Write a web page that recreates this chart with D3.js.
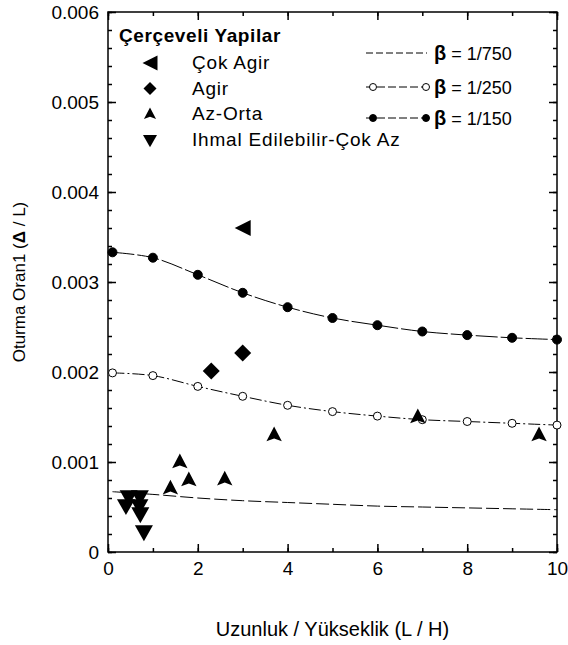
<!DOCTYPE html>
<html>
<head>
<meta charset="utf-8">
<script src="https://cdn.jsdelivr.net/npm/d3@7"></script>
<style>
  body { margin: 0; background: #fff; }
  svg text { font-family: "Liberation Sans", Arial, sans-serif; fill: #000; }
</style>
</head>
<body>
<svg id="chart"></svg>
<script>
// settlement-ratio curves, x = L/H
const ratios = [0.1, 1, 2, 3, 4, 5, 6, 7, 8, 9, 10];
const beta750 = [0.00067, 0.00064, 0.00060, 0.00057, 0.00055, 0.00053, 0.00051, 0.00050, 0.00049, 0.00048, 0.00047];
const beta250 = [0.00199, 0.00196, 0.00184, 0.00173, 0.00163, 0.00156, 0.00151, 0.00147, 0.00145, 0.00143, 0.00141];
const beta150 = [0.00333, 0.00327, 0.00308, 0.00288, 0.00272, 0.00260, 0.00252, 0.00245, 0.00241, 0.00238, 0.00236];

// observed damage cases
const cokAgir = [[3.0, 0.0036]];
const agir = [[2.3, 0.00201], [3.0, 0.00221]];
const azOrta = [[1.39, 0.00071], [1.6, 0.00100], [1.8, 0.00080], [2.6, 0.00081], [3.7, 0.00130], [6.9, 0.00150], [9.6, 0.00130]];
const ihmal = [[0.4, 0.00052], [0.46, 0.00062], [0.71, 0.00062], [0.7, 0.00052], [0.72, 0.00043], [0.8, 0.00023]];

const xTicks = [0, 2, 4, 6, 8, 10];
const xTickLabels = ['0', '2', '4', '6', '8', '10'];
const yTicks = [0, 0.001, 0.002, 0.003, 0.004, 0.005, 0.006];
const yTickLabels = ['0', '0.001', '0.002', '0.003', '0.004', '0.005', '0.006'];

const legendTitle = 'Çerçeveli Yapilar';
const damageNames = ['Çok Agir', 'Agir', 'Az-Orta', 'Ihmal Edilebilir-Çok Az'];
const betaNames = ['1/750', '1/250', '1/150'];

const width = 568, height = 645;
const pLeft = 108, pRight = 557, pTop = 12, pBottom = 552;

const svg = d3.select('#chart').attr('width', width).attr('height', height);

const x = d3.scaleLinear().domain([0, 10]).range([pLeft, pRight]);
const y = d3.scaleLinear().domain([0, 0.006]).range([pBottom, pTop]);

// marker shapes
const shapes = {
  leftTri: s => `M${-s*0.5},0 L${s*0.5},${-s*0.5} L${s*0.5},${s*0.5} Z`,
  diamond: s => `M0,${-s*0.5} L${s*0.5},0 L0,${s*0.5} L${-s*0.5},0 Z`,
  arrow: s => `M0,${-s*0.6} L${s*0.55},${s*0.45} L0,${s*0.25} L${-s*0.55},${s*0.45} Z`,
  downTri: s => `M${-s*0.5},${-s*0.33} L${s*0.5},${-s*0.33} L0,${s*0.55} Z`
};

// axes: inward ticks on all four sides
const minorX = d3.range(0, 11, 1);
const minorY = d3.range(0, 31).map(d => d * 0.0002);

function drawAxis(axis, tx, ty) {
  const g = svg.append('g').attr('transform', `translate(${tx},${ty})`).call(axis);
  g.select('.domain').remove();
  g.selectAll('line').attr('stroke', '#000').attr('stroke-width', 1.5);
  g.selectAll('text').attr('font-size', 19).attr('font-family', '"Liberation Sans", Arial, sans-serif');
  return g;
}

drawAxis(d3.axisBottom(x).tickValues(minorX).tickSize(-4).tickFormat(''), 0, pBottom);
drawAxis(d3.axisTop(x).tickValues(minorX).tickSize(-4).tickFormat(''), 0, pTop);
drawAxis(d3.axisLeft(y).tickValues(minorY).tickSize(-4).tickFormat(''), pLeft, 0);
drawAxis(d3.axisRight(y).tickValues(minorY).tickSize(-4).tickFormat(''), pRight, 0);

drawAxis(d3.axisBottom(x).tickValues(xTicks).tickSize(-8).tickPadding(10)
  .tickFormat((d, i) => xTickLabels[i]), 0, pBottom);
drawAxis(d3.axisTop(x).tickValues(xTicks).tickSize(-8).tickFormat(''), 0, pTop);
drawAxis(d3.axisLeft(y).tickValues(yTicks).tickSize(-8).tickPadding(9)
  .tickFormat((d, i) => yTickLabels[i]), pLeft, 0);
drawAxis(d3.axisRight(y).tickValues(yTicks).tickSize(-8).tickFormat(''), pRight, 0);

svg.append('rect')
  .attr('x', pLeft).attr('y', pTop)
  .attr('width', pRight - pLeft).attr('height', pBottom - pTop)
  .attr('fill', 'none').attr('stroke', '#000').attr('stroke-width', 1.5);

// curves
const line = d3.line()
  .x((d, i) => x(ratios[i]))
  .y(d => y(d))
  .curve(d3.curveCatmullRom.alpha(0.5));

const curves = [
  { vals: beta750, dash: '13,4', marker: null },
  { vals: beta250, dash: '12,3,2,3', marker: 'open' },
  { vals: beta150, dash: '22,3', marker: 'filled' }
];

curves.forEach(c => {
  svg.append('path')
    .attr('d', line(c.vals))
    .attr('fill', 'none')
    .attr('stroke', '#000')
    .attr('stroke-width', 1)
    .attr('stroke-dasharray', c.dash);
  if (c.marker) {
    svg.selectAll(null)
      .data(c.vals)
      .enter()
      .append('circle')
      .attr('cx', (d, i) => x(ratios[i]))
      .attr('cy', d => y(d))
      .attr('r', c.marker === 'filled' ? 4.5 : 4)
      .attr('fill', c.marker === 'filled' ? '#000' : '#fff')
      .attr('stroke', '#000')
      .attr('stroke-width', 1);
  }
});

// damage points
const groups = [
  { data: cokAgir, shape: 'leftTri', size: 16 },
  { data: agir, shape: 'diamond', size: 17 },
  { data: azOrta, shape: 'arrow', size: 14 },
  { data: ihmal, shape: 'downTri', size: 18 }
];

groups.forEach(g => {
  svg.selectAll(null)
    .data(g.data)
    .enter()
    .append('path')
    .attr('d', shapes[g.shape](g.size))
    .attr('transform', d => `translate(${x(d[0])},${y(d[1])})`)
    .attr('fill', '#000');
});

// legend - damage classes
svg.append('text')
  .attr('x', 119).attr('y', 42)
  .attr('font-size', 19).attr('font-weight', 'bold')
  .attr('letter-spacing', 0.6)
  .text(legendTitle);

const legSizes = [15, 13, 11, 14];
damageNames.forEach((name, i) => {
  const cy = 63 + i * 25.5;
  svg.append('path')
    .attr('d', shapes[groups[i].shape](legSizes[i]))
    .attr('transform', `translate(150,${cy})`)
    .attr('fill', '#000');
  svg.append('text')
    .attr('x', 192).attr('y', cy + 6)
    .attr('font-size', 19)
    .attr('letter-spacing', 0.8)
    .text(name);
});

// legend - beta curves
betaNames.forEach((name, i) => {
  const ly = [53, 87, 118][i];
  const c = curves[i];
  svg.append('line')
    .attr('x1', 366).attr('x2', 427)
    .attr('y1', ly).attr('y2', ly)
    .attr('stroke', '#000').attr('stroke-width', 1)
    .attr('stroke-dasharray', i === 0 ? '7,3' : '8,3');
  if (c.marker) {
    [373, 426].forEach(cx => {
      svg.append('circle')
        .attr('cx', cx).attr('cy', ly).attr('r', 3.5)
        .attr('fill', c.marker === 'filled' ? '#000' : '#fff')
        .attr('stroke', '#000').attr('stroke-width', 1);
    });
  }
  const t = svg.append('text')
    .attr('x', 434).attr('y', ly + 7)
    .attr('font-size', 18);
  t.append('tspan').attr('font-weight', 'bold').attr('font-size', 20).text('β');
  t.append('tspan').text(' = ' + name);
});

// axis titles
svg.append('text')
  .attr('x', (pLeft + pRight) / 2).attr('y', 636)
  .attr('text-anchor', 'middle')
  .attr('font-size', 20)
  .text('Uzunluk / Yükseklik (L / H)');

const yt = svg.append('text')
  .attr('transform', `translate(25,${(pTop + pBottom) / 2}) rotate(-90)`)
  .attr('text-anchor', 'middle')
  .attr('font-size', 17);
yt.append('tspan').text('Oturma Oran1 (');
yt.append('tspan').attr('font-weight', 'bold').text('Δ');
yt.append('tspan').text(' / L)');
</script>
</body>
</html>
